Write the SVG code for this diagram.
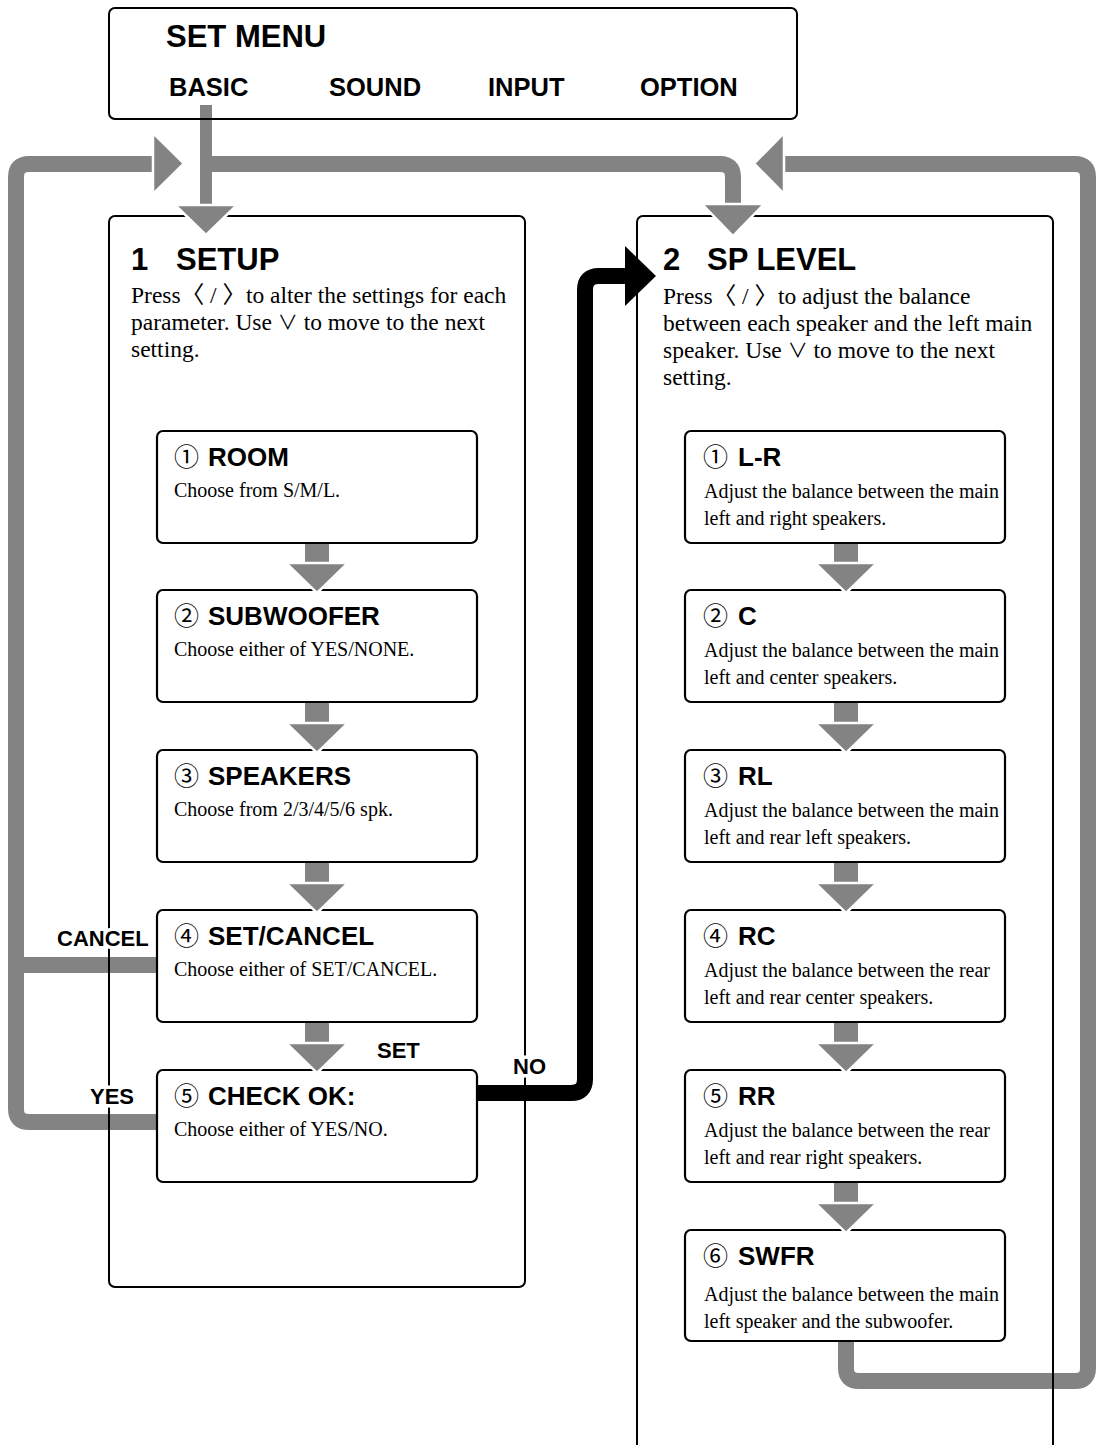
<svg xmlns="http://www.w3.org/2000/svg" width="1102" height="1445" viewBox="0 0 1102 1445">
<style>
.frame{fill:none;stroke:#000;stroke-width:2}
.box{fill:#fff;stroke:#000;stroke-width:2.2}
.sans{font-family:"Liberation Sans",Arial,"Noto Sans CJK JP",sans-serif;font-weight:bold;fill:#000}
.h1{font-size:31px}
.menu{font-size:25.5px}
.title{font-size:26px}
.num{font-family:"Noto Sans CJK JP",sans-serif;font-weight:normal;font-size:25px}
.body{font-family:"Liberation Serif","Times New Roman",serif;font-size:23.5px;fill:#000}
.desc{font-family:"Liberation Serif","Times New Roman",serif;font-size:20px;fill:#000}
.sym{font-family:"Noto Sans CJK JP",sans-serif;font-weight:normal}
.vee{font-family:"Noto Sans CJK JP",sans-serif;font-weight:normal;font-size:20px}
.lbl{font-size:22px;stroke:#fff;stroke-width:7;paint-order:stroke;stroke-linejoin:round}
.gray{fill:none;stroke:#838383;stroke-width:16}
.ghead{fill:#838383;stroke:#fff;stroke-width:2.5;stroke-linejoin:miter}
.gfill{fill:#838383}
.black{fill:none;stroke:#000;stroke-width:16}
</style>

<g id="connectors">
  <path class="gray" d="M206 105 V208" style="stroke-width:12"/>
  <path class="gray" d="M206 164 H720 Q733 164 733 177 V206"/>
  <path class="gray" d="M157 1122 H29 Q16 1122 16 1109 V177 Q16 164 29 164 H156"/>
  <path class="gray" d="M16 965 H157"/>
  <path class="gray" d="M846 1340 V1368 Q846 1381 859 1381 H1075 Q1088 1381 1088 1368 V177 Q1088 164 1075 164 H782"/>
  <path class="black" d="M477 1093 H571 Q585 1093 585 1079 V290 Q585 276 599 276 H628"/>
  <polygon fill="#000" points="625,246 625,306 656,276"/>
  <rect class="gfill" x="305" y="542" width="24" height="22"/>
  <rect class="gfill" x="305" y="701" width="24" height="23"/>
  <rect class="gfill" x="305" y="861" width="24" height="23"/>
  <rect class="gfill" x="305" y="1021" width="24" height="23"/>
  <rect class="gfill" x="834" y="542" width="24" height="22"/>
  <rect class="gfill" x="834" y="701" width="24" height="23"/>
  <rect class="gfill" x="834" y="861" width="24" height="23"/>
  <rect class="gfill" x="834" y="1021" width="24" height="23"/>
  <rect class="gfill" x="834" y="1181" width="24" height="23"/>
</g>

<g id="set-menu">
  <rect class="frame" x="109" y="8" width="688" height="111" rx="6"/>
  <text class="sans h1" x="166" y="47">SET MENU</text>
  <text class="sans menu" x="169" y="96">BASIC</text>
  <text class="sans menu" x="329" y="96">SOUND</text>
  <text class="sans menu" x="488" y="96">INPUT</text>
  <text class="sans menu" x="640" y="96">OPTION</text>
</g>

<g id="setup">
  <rect class="frame" x="109" y="216" width="416" height="1071" rx="6"/>
  <text class="sans h1" y="270"><tspan x="131">1</tspan><tspan x="176">SETUP</tspan></text>
  <text class="body" x="131" y="303">Press<tspan class="sym">〈</tspan> / <tspan class="sym">〉</tspan>to alter the settings for each</text>
  <text class="body" x="131" y="330">parameter. Use <tspan class="vee">∨</tspan> to move to the next</text>
  <text class="body" x="131" y="357">setting.</text>
</g>

<g id="sp-level">
  <rect class="frame" x="637" y="216" width="416" height="1260" rx="6"/>
  <text class="sans h1" y="270"><tspan x="663">2</tspan><tspan x="707">SP LEVEL</tspan></text>
  <text class="body" x="663" y="304">Press<tspan class="sym">〈</tspan> / <tspan class="sym">〉</tspan>to adjust the balance</text>
  <text class="body" x="663" y="331">between each speaker and the left main</text>
  <text class="body" x="663" y="358">speaker. Use <tspan class="vee">∨</tspan> to move to the next</text>
  <text class="body" x="663" y="385">setting.</text>
</g>

<g id="room">
  <rect class="box" x="157" y="431" width="320" height="112" rx="6"/>
  <text class="sans title" y="466"><tspan class="num" x="174">①</tspan><tspan x="208">ROOM</tspan></text>
  <text class="desc" x="174" y="497">Choose from S/M/L.</text>
</g>
<g id="subwoofer">
  <rect class="box" x="157" y="590" width="320" height="112" rx="6"/>
  <text class="sans title" y="625"><tspan class="num" x="174">②</tspan><tspan x="208">SUBWOOFER</tspan></text>
  <text class="desc" x="174" y="656">Choose either of YES/NONE.</text>
</g>
<g id="speakers">
  <rect class="box" x="157" y="750" width="320" height="112" rx="6"/>
  <text class="sans title" y="785"><tspan class="num" x="174">③</tspan><tspan x="208">SPEAKERS</tspan></text>
  <text class="desc" x="174" y="816">Choose from 2/3/4/5/6 spk.</text>
</g>
<g id="set-cancel">
  <rect class="box" x="157" y="910" width="320" height="112" rx="6"/>
  <text class="sans title" y="945"><tspan class="num" x="174">④</tspan><tspan x="208">SET/CANCEL</tspan></text>
  <text class="desc" x="174" y="976">Choose either of SET/CANCEL.</text>
</g>
<g id="check-ok">
  <rect class="box" x="157" y="1070" width="320" height="112" rx="6"/>
  <text class="sans title" y="1105"><tspan class="num" x="174">⑤</tspan><tspan x="208">CHECK OK:</tspan></text>
  <text class="desc" x="174" y="1136">Choose either of YES/NO.</text>
</g>

<g id="lr">
  <rect class="box" x="685" y="431" width="320" height="112" rx="6"/>
  <text class="sans title" y="466"><tspan class="num" x="703">①</tspan><tspan x="738">L-R</tspan></text>
  <text class="desc" x="704" y="498">Adjust the balance between the main</text>
  <text class="desc" x="704" y="525">left and right speakers.</text>
</g>
<g id="c">
  <rect class="box" x="685" y="590" width="320" height="112" rx="6"/>
  <text class="sans title" y="625"><tspan class="num" x="703">②</tspan><tspan x="738">C</tspan></text>
  <text class="desc" x="704" y="657">Adjust the balance between the main</text>
  <text class="desc" x="704" y="684">left and center speakers.</text>
</g>
<g id="rl">
  <rect class="box" x="685" y="750" width="320" height="112" rx="6"/>
  <text class="sans title" y="785"><tspan class="num" x="703">③</tspan><tspan x="738">RL</tspan></text>
  <text class="desc" x="704" y="817">Adjust the balance between the main</text>
  <text class="desc" x="704" y="844">left and rear left speakers.</text>
</g>
<g id="rc">
  <rect class="box" x="685" y="910" width="320" height="112" rx="6"/>
  <text class="sans title" y="945"><tspan class="num" x="703">④</tspan><tspan x="738">RC</tspan></text>
  <text class="desc" x="704" y="977">Adjust the balance between the rear</text>
  <text class="desc" x="704" y="1004">left and rear center speakers.</text>
</g>
<g id="rr">
  <rect class="box" x="685" y="1070" width="320" height="112" rx="6"/>
  <text class="sans title" y="1105"><tspan class="num" x="703">⑤</tspan><tspan x="738">RR</tspan></text>
  <text class="desc" x="704" y="1137">Adjust the balance between the rear</text>
  <text class="desc" x="704" y="1164">left and rear right speakers.</text>
</g>
<g id="swfr">
  <rect class="box" x="685" y="1230" width="320" height="111" rx="6"/>
  <text class="sans title" y="1265"><tspan class="num" x="703">⑥</tspan><tspan x="738">SWFR</tspan></text>
  <text class="desc" x="704" y="1301">Adjust the balance between the main</text>
  <text class="desc" x="704" y="1328">left speaker and the subwoofer.</text>
</g>

<g id="connector-heads">
  <polygon class="ghead" points="175,205 237,205 206,235"/>
  <polygon class="ghead" points="702,204 764,204 733,236"/>
  <polygon class="ghead" points="153,133 153,194 184,163.5"/>
  <polygon class="ghead" points="784,133 784,194 754,163.5"/>
  <polygon class="ghead" points="286,563 348,563 317,593"/>
  <polygon class="ghead" points="286,723 348,723 317,753"/>
  <polygon class="ghead" points="286,883 348,883 317,913"/>
  <polygon class="ghead" points="286,1043 348,1043 317,1073"/>
  <polygon class="ghead" points="815,563 877,563 846,593"/>
  <polygon class="ghead" points="815,723 877,723 846,753"/>
  <polygon class="ghead" points="815,883 877,883 846,913"/>
  <polygon class="ghead" points="815,1043 877,1043 846,1073"/>
  <polygon class="ghead" points="815,1203 877,1203 846,1233"/>
  <text class="sans lbl" x="57" y="946">CANCEL</text>
  <text class="sans lbl" x="90" y="1104">YES</text>
  <text class="sans lbl" x="377" y="1058">SET</text>
  <text class="sans lbl" x="513" y="1074">NO</text>
</g>
</svg>
